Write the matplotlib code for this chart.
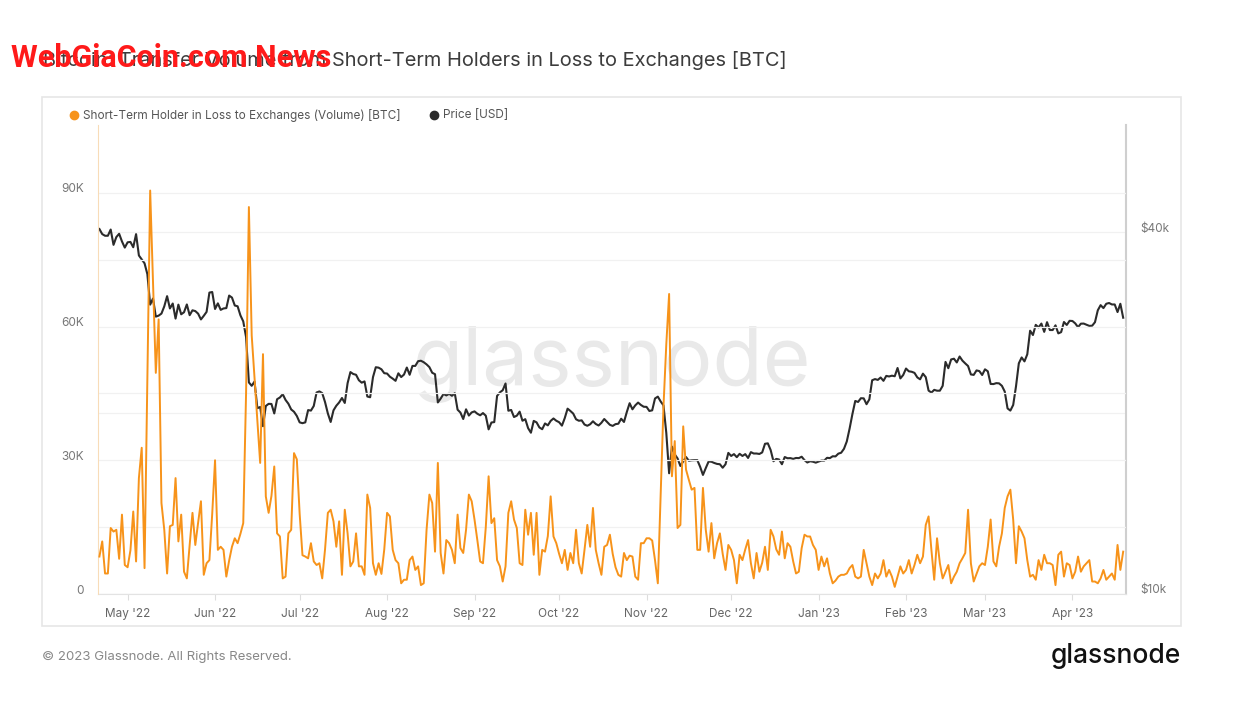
import matplotlib
matplotlib.use("Agg")
import matplotlib.pyplot as plt
import matplotlib.dates as mdates
from matplotlib.lines import Line2D
from matplotlib.patches import Rectangle
from matplotlib.transforms import ScaledTranslation
import numpy as np
import pandas as pd

plt.rcParams['font.family'] = ['Inter', 'DejaVu Sans']

# daily BTC price [USD], 21 Apr 2022 .. 19 Apr 2023
price_apr22 = [40480, 39700, 39450, 39450, 40400, 38100, 39250, 39750, 38600, 37700]
price_may22 = [38470, 38530, 37750, 39700, 36580, 36040, 35500, 34060, 30300, 31020, 28940,
               29050, 29280, 30100, 31300, 29860, 30430, 28720, 30300, 29200, 29430, 30320,
               29100, 29650, 29560, 29270, 28630, 29030, 29470, 31730, 31800]
price_jun22 = [29800, 30450, 29700, 29860, 29900, 31370, 31130, 30200, 30110, 29080, 28420,
               26760, 22490, 22200, 22570, 20380, 20470, 19020, 20550, 20720, 20710, 19970,
               21090, 21230, 21500, 21030, 20730, 20280, 20100, 19780]
price_jul22 = [19300, 19240, 19300, 20230, 20190, 20550, 21640, 21730, 21590, 20860, 19970,
               19330, 20210, 20570, 20830, 21190, 20790, 22430, 23400, 23230, 23160, 22680,
               22470, 22580, 21310, 21250, 22950, 23840, 23800, 23650, 23300]
price_aug22 = [23270, 22990, 22820, 22630, 23290, 22960, 23180, 23810, 23160, 23960, 23960,
               24400, 24440, 24300, 24100, 23850, 23340, 23210, 20830, 21140, 21520, 21400,
               21530, 21370, 21580, 20260, 20040, 19550, 20290, 19810, 20050]
price_sep22 = [20130, 19950, 19830, 20000, 19800, 18790, 19290, 19320, 21360, 21650, 21830,
               22400, 20180, 20240, 19700, 19800, 20110, 19420, 19540, 18880, 18550, 19410,
               19300, 18930, 18800, 19220, 19080, 19410, 19590, 19420]
price_oct22 = [19310, 19060, 19620, 20340, 20160, 19960, 19530, 19420, 19450, 19140, 19050,
               19160, 19380, 19180, 19070, 19270, 19550, 19330, 19120, 19040, 19170, 19200,
               19570, 19330, 20080, 20770, 20290, 20600, 20820, 20630, 20490]
price_nov22 = [20480, 20160, 20210, 21150, 21300, 20910, 20600, 18540, 15880, 17590, 17070,
               16810, 16330, 16620, 16900, 16660, 16690, 16700, 16700, 16280, 15780, 16200,
               16610, 16600, 16520, 16460, 16440, 16220, 16440, 17170]
price_dec22 = [16970, 17090, 16890, 17110, 16970, 17090, 16840, 17220, 17130, 17130, 17100,
               17200, 17780, 17810, 17360, 16630, 16780, 16740, 16440, 16900, 16820, 16830,
               16780, 16840, 16830, 16920, 16700, 16550, 16630, 16600, 16540]
price_jan23 = [16610, 16670, 16670, 16850, 16830, 16950, 16940, 17120, 17180, 17440, 17940,
               18850, 19930, 20950, 20870, 21170, 21160, 20690, 21080, 22680, 22780, 22710,
               22920, 22630, 23060, 23010, 23080, 23030, 23770, 22840, 23140]
price_feb23 = [23720, 23470, 23430, 23330, 22930, 22760, 23260, 22950, 21800, 21630, 21860,
               21790, 21790, 22200, 24330, 23750, 24560, 24630, 24280, 24840, 24450, 24190,
               23950, 23190, 23150, 23550, 23490, 23140]
price_mar23 = [23650, 23470, 22360, 22350, 22430, 22410, 22200, 21720, 20360, 20190, 20630,
               22160, 24200, 24750, 24380, 25050, 27420, 26970, 28040, 27770, 28180, 27300,
               28330, 27490, 27490, 27990, 27140, 27270, 28350, 28030, 28480]
price_apr23 = [28460, 28200, 27790, 28170, 28180, 28050, 27930, 27950, 28330, 29650, 30240,
               29900, 30400, 30490, 30320, 30320, 29450, 30400, 28820]

# STH in loss -> exchanges volume, thousands of BTC
vol_apr22 = [8.4, 11.8, 4.6, 4.6, 14.8, 14.0, 14.4, 7.9, 17.8, 6.5]
vol_may22 = [6.0, 9.8, 18.5, 7.3, 26.0, 32.8, 5.8, 48.0, 90.5, 70.0, 49.6, 61.6, 20.4, 14.4,
             4.6, 15.2, 15.5, 26.0, 11.8, 17.8, 5.0, 3.5, 11.0, 18.2, 11.0, 16.0, 20.8, 4.3,
             6.9, 7.6, 18.0]
vol_jun22 = [30.0, 9.9, 10.6, 9.9, 3.9, 7.5, 10.6, 12.5, 11.4, 13.5, 15.9, 45.0, 86.8, 58.0,
             48.5, 39.0, 29.4, 53.8, 21.9, 18.2, 22.0, 28.6, 13.6, 12.9, 3.5, 3.9, 13.6, 14.4,
             31.6, 30.2]
vol_jul22 = [18.0, 8.7, 8.4, 8.0, 11.4, 7.3, 6.5, 6.9, 3.5, 10.0, 18.2, 18.9, 16.3, 10.6,
             16.3, 4.3, 18.9, 13.6, 6.2, 7.3, 13.6, 6.2, 6.2, 4.3, 22.3, 19.3, 6.9, 4.3, 6.9,
             4.5, 10.0]
vol_aug22 = [18.2, 17.4, 9.9, 7.6, 6.9, 2.4, 3.2, 3.2, 7.6, 8.4, 5.4, 6.2, 2.0, 2.4, 14.4,
             22.3, 20.4, 9.5, 29.4, 9.2, 4.6, 12.1, 11.4, 9.9, 6.9, 17.8, 10.3, 9.2, 14.4,
             22.3, 20.8]
vol_sep22 = [16.7, 12.1, 7.3, 6.9, 15.0, 26.4, 15.9, 17.0, 7.6, 6.2, 2.8, 6.2, 18.2, 20.8,
             16.7, 14.8, 6.9, 6.5, 18.9, 13.3, 18.2, 8.8, 18.2, 4.3, 9.9, 9.5, 13.0, 21.9,
             12.9, 11.4]
vol_oct22 = [9.0, 6.9, 9.9, 5.4, 9.2, 6.9, 14.4, 6.9, 4.6, 9.9, 15.5, 10.6, 19.3, 9.9, 6.9,
             4.3, 10.6, 11.0, 13.3, 9.0, 6.0, 4.3, 3.9, 9.2, 7.6, 8.6, 8.4, 3.9, 3.2, 11.4,
             11.4]
vol_nov22 = [12.5, 12.5, 12.0, 7.6, 2.4, 21.9, 42.0, 56.0, 67.3, 26.4, 34.3, 14.8, 15.5, 37.6,
             27.9, 25.6, 23.4, 23.8, 9.9, 9.9, 23.8, 14.4, 9.5, 15.9, 8.0, 11.4, 13.6, 9.0,
             5.4, 11.0]
vol_dec22 = [9.9, 7.6, 2.4, 8.8, 7.6, 10.0, 12.1, 6.9, 3.5, 9.2, 5.0, 7.0, 10.6, 5.4, 14.4,
             12.9, 10.0, 8.8, 14.0, 8.0, 11.4, 10.6, 7.3, 4.6, 5.0, 10.3, 13.3, 12.9, 12.9,
             11.0, 9.9]
vol_jan23 = [5.4, 8.4, 6.2, 8.0, 4.6, 2.4, 3.0, 3.9, 4.3, 4.3, 4.6, 5.8, 6.5, 3.9, 3.5, 3.9,
             9.9, 6.9, 3.9, 2.0, 4.6, 3.5, 4.6, 7.6, 3.9, 5.4, 3.9, 1.6, 3.9, 6.2, 4.6]
vol_feb23 = [5.4, 7.6, 4.6, 6.5, 8.8, 6.9, 8.4, 15.5, 17.4, 9.9, 3.2, 12.5, 6.9, 3.5, 5.0,
             6.5, 2.4, 3.9, 5.0, 6.9, 8.0, 9.2, 18.9, 6.9, 2.8, 4.5, 6.2, 6.9]
vol_mar23 = [6.5, 10.6, 16.7, 7.3, 6.2, 10.6, 13.6, 19.3, 21.9, 23.4, 16.7, 6.9, 15.2, 14.0,
             12.5, 7.6, 3.9, 4.3, 3.2, 7.6, 5.4, 8.8, 6.9, 6.9, 6.5, 2.0, 8.8, 9.5, 3.9, 6.9,
             6.5]
vol_apr23 = [3.5, 5.0, 8.4, 5.0, 6.2, 6.9, 7.6, 2.8, 2.8, 2.4, 3.5, 5.4, 3.2, 3.9, 4.6, 3.2,
             11.0, 5.4, 9.5]

price = (price_apr22 + price_may22 + price_jun22 + price_jul22 + price_aug22 + price_sep22
         + price_oct22 + price_nov22 + price_dec22 + price_jan23 + price_feb23 + price_mar23
         + price_apr23)
volume = (vol_apr22 + vol_may22 + vol_jun22 + vol_jul22 + vol_aug22 + vol_sep22 + vol_oct22
          + vol_nov22 + vol_dec22 + vol_jan23 + vol_feb23 + vol_mar23 + vol_apr23)
dates = pd.date_range('2022-04-21', periods=len(price), freq='D')

W, H = 1257, 705
fig = plt.figure(figsize=(W / 100, H / 100), dpi=100)
fig.patch.set_facecolor('white')

# outer card
fig.patches.append(Rectangle((42 / W, 1 - 626 / H), (1181 - 42) / W, (626 - 97) / H,
                             transform=fig.transFigure, fill=False,
                             edgecolor='#e6e6e6', lw=1.2))

# title + overlay watermark
fig.text(43 / W, 1 - 60 / H,
         'Bitcoin: Transfer Volume from Short-Term Holders in Loss to Exchanges [BTC]',
         fontsize=14.4, color='#3c3c3c', va='center', ha='left')
fig.text(11 / W, 1 - 58 / H, 'WebGiaCoin.com News', fontsize=22, fontweight='bold',
         family=['Roboto', 'DejaVu Sans'], color='#ff1a1a',
         va='center', ha='left', zorder=10)

# legend
fig.add_artist(Line2D([74 / W], [1 - 115 / H], marker='o', markersize=6, color='#f7931a',
                      transform=fig.transFigure))
fig.text(83 / W, 1 - 115 / H, 'Short-Term Holder in Loss to Exchanges (Volume) [BTC]',
         fontsize=8.5, color='#555555', va='center')
fig.add_artist(Line2D([434 / W], [1 - 115 / H], marker='o', markersize=6, color='#2b2b2b',
                      transform=fig.transFigure))
fig.text(443 / W, 1 - 115 / H, 'Price [USD]', fontsize=8.5, color='#555555', va='center')

# axes: price (log, right) underneath, volume (left) on top
ax_p = fig.add_axes([98 / W, 1 - 594 / H, (1126 - 98) / W, (594 - 125) / H])
ax_v = ax_p.twinx()

ax_p.set_yscale('log')
ax_p.set_ylim(10000, 60300)
ax_p.plot(dates, price, color='#2b2b2b', lw=1.5, zorder=3)
ax_p.yaxis.tick_right()
ax_p.set_yticks([10000, 20000, 40000])
ax_p.set_yticklabels(['$10k', '', '$40k'])
ax_p.yaxis.set_minor_locator(matplotlib.ticker.NullLocator())
ax_p.grid(axis='y', color='#f1f1f1', lw=0.9)
ax_p.tick_params(axis='y', length=0, pad=10, labelsize=8.5, labelcolor='#777777')

ax_p.text(0.5, 0.49, 'glassnode', transform=ax_p.transAxes, fontsize=59,
          color='#e9e9e9', ha='center', va='center', zorder=0)

ax_v.yaxis.tick_left()
ax_v.set_ylim(0, 105.2)
ax_v.plot(dates, volume, color='#f7931a', lw=1.4, zorder=3)
ax_v.set_yticks([0, 30, 60, 90])
ax_v.set_yticklabels(['0', '30K', '60K', '90K'])
ax_v.set_yticks([15, 45, 75], minor=True)
ax_v.grid(axis='y', which='both', color='#f1f1f1', lw=0.9)
ax_v.tick_params(axis='y', which='both', length=0, pad=10, labelsize=8.5,
                 labelcolor='#777777')

for lab in ax_v.get_yticklabels() + ax_p.get_yticklabels():
    lab.set_transform(lab.get_transform() + ScaledTranslation(0, 5 / 100, fig.dpi_scale_trans))

ax_p.set_xlim(pd.Timestamp('2022-04-20 12:00'), pd.Timestamp('2023-04-20'))
ax_p.xaxis.set_major_locator(mdates.MonthLocator(bymonthday=1))
ax_p.xaxis.set_major_formatter(mdates.DateFormatter("%b '%y"))
ax_p.tick_params(axis='x', length=4, color='#dddddd', pad=6, labelsize=8.5,
                 labelcolor='#666666')

for a in (ax_p, ax_v):
    a.spines['top'].set_visible(False)
ax_p.spines['left'].set_visible(False)
ax_v.spines['right'].set_visible(False)
ax_v.spines['bottom'].set_visible(False)
ax_v.spines['left'].set_color('#f8dcb8')
ax_p.spines['right'].set_color('#cfcfcf')
ax_p.spines['right'].set_linewidth(1.5)
ax_p.spines['bottom'].set_color('#e3e3e3')

# footer
fig.text(42 / W, 1 - 657 / H, '\u00a9 2023 Glassnode. All Rights Reserved.',
         fontsize=9.5, color='#888888', va='center')
fig.text(1181 / W, 1 - 656 / H, 'glassnode', fontsize=19, color='#111111',
         ha='right', va='center', fontweight='medium')

fig.savefig('out.png', dpi=100, facecolor='white')
